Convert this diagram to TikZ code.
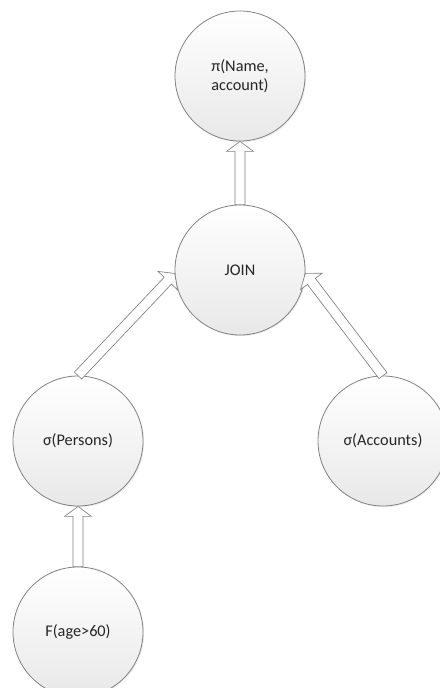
\documentclass[tikz,border=0pt]{standalone}
\usepackage{fontspec}
\setmainfont{Carlito}
\usetikzlibrary{calc,shadows}

\definecolor{rim}{RGB}{128,128,128}

\tikzset{
  opnode/.style={circle, draw=rim, line width=0.6pt, minimum size=97.5pt,
    top color=white, bottom color=black!9, align=center, text=black!85,
    font=\fontsize{12.2}{14.25}\selectfont,
    drop shadow={opacity=0.15, shadow xshift=0.8pt, shadow yshift=-0.8pt}},
  fatarrow/.style={draw=rim, fill=white, line width=0.5pt, line join=miter,
    to path={
      ($(\tikztostart)!3.75pt!90:(\tikztotarget)$)
      -- ($(\tikztotarget)!7.5pt!(\tikztostart)!3.75pt!-90:(\tikztostart)$)
      -- ($(\tikztotarget)!7.5pt!(\tikztostart)!10.1pt!-90:(\tikztostart)$)
      -- (\tikztotarget)
      -- ($(\tikztotarget)!7.5pt!(\tikztostart)!10.1pt!90:(\tikztostart)$)
      -- ($(\tikztotarget)!7.5pt!(\tikztostart)!3.75pt!90:(\tikztostart)$)
      -- ($(\tikztostart)!3.75pt!-90:(\tikztotarget)$)
      -- cycle}}
}

\begin{document}
\begin{tikzpicture}[x=0.75pt, y=-0.75pt]
    \useasboundingbox (0,0) rectangle (439,688);

    % Projection at the top
    \node[opnode] (proj) at (240,76) {π(Name,\\account)};

    % Join in the middle
    \node[opnode] (join) at (240,270) {JOIN};

    % Selections
    \node[opnode] (persons) at (78,441) {σ(Persons)};
    \node[opnode] (accounts) at (383,441) {σ(Accounts)};

    % Filter at the bottom
    \node[opnode] (fage) at (78,632) {F(age>60)};

    % Hollow arrows, bottom up
    \draw[fatarrow] (fage.north) to (persons.south);
    \draw[fatarrow] (persons.north) to (join.183);
    \draw[fatarrow] (accounts.north) to (join.-3);
    \draw[fatarrow] (join.north) to (proj.south);
\end{tikzpicture}
\end{document}
